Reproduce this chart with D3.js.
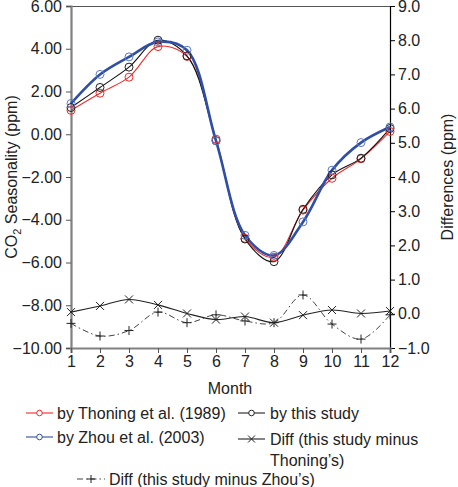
<!DOCTYPE html>
<html>
<head>
<meta charset="utf-8">
<script src="https://cdn.jsdelivr.net/npm/d3@7"></script>
<style>
  body { margin: 0; background: #fff; }
  svg { font-family: "Liberation Sans", Arial, Helvetica, sans-serif; }
</style>
</head>
<body>
<script>
// values
var months = [1, 2, 3, 4, 5, 6, 7, 8, 9, 10, 11, 12];
var thoning = [1.12, 1.92, 2.67, 4.10, 3.64, -0.23, -4.87, -5.75, -3.55, -2.06, -1.15, 0.13];
var zhou = [1.44, 2.80, 3.62, 4.32, 3.93, -0.31, -4.73, -5.67, -4.10, -1.68, -0.39, 0.34];
var thisStudy = [1.25, 2.19, 3.14, 4.40, 3.67, -0.30, -4.90, -5.96, -3.51, -1.90, -1.12, 0.27];
var diffThoning = [0.05, 0.23, 0.42, 0.26, 0.01, -0.17, -0.08, -0.26, -0.04, 0.11, 0.01, 0.08];
var diffZhou = [-0.28, -0.65, -0.49, 0.05, -0.26, -0.03, -0.21, -0.26, 0.55, -0.30, -0.74, -0.03];
var leftTicks = [6, 4, 2, 0, -2, -4, -6, -8, -10];
var rightTicks = [9, 8, 7, 6, 5, 4, 3, 2, 1, 0, -1];

var W = 458, H = 487;
var plotL = 71, plotR = 390, plotT = 6, plotB = 348;

var svg = d3.select("body").append("svg")
    .attr("width", W)
    .attr("height", H);

var x = d3.scaleLinear().domain([1, 12]).range([plotL, plotR]);
var yL = d3.scaleLinear().domain([-10, 6]).range([plotB, plotT]);
var yR = d3.scaleLinear().domain([-1, 9]).range([plotB, plotT]);

function fmt2(v) { return d3.format(".2f")(v).replace("-", "\u2212").replace("\u2212", "\u2212"); }
function fmt1(v) { return d3.format(".1f")(v).replace("-", "\u2212"); }

// top border
svg.append("line")
    .attr("x1", plotL).attr("x2", plotR)
    .attr("y1", plotT + 0.5).attr("y2", plotT + 0.5)
    .attr("stroke", "#555").attr("stroke-width", 1);

// right axis (black)
var gR = svg.append("g")
    .attr("transform", "translate(" + plotR + ",0)")
    .call(d3.axisRight(yR).tickValues(rightTicks).tickFormat(fmt1).tickSize(5).tickPadding(3));
gR.select(".domain").attr("stroke", "#000").attr("stroke-width", 1.2);
gR.selectAll(".tick line").attr("stroke", "#000");
gR.selectAll("text").attr("font-size", 16).attr("fill", "#222").attr("font-family", null);

// left axis (grey)
var gL = svg.append("g")
    .attr("transform", "translate(" + plotL + ",0)")
    .call(d3.axisLeft(yL).tickValues(leftTicks).tickFormat(fmt2).tickSize(5).tickPadding(4));
gL.select(".domain").attr("stroke", "#808080").attr("stroke-width", 2.2);
gL.selectAll(".tick line").attr("stroke", "#555");
gL.selectAll("text").attr("font-size", 16).attr("fill", "#222").attr("font-family", null);

// bottom axis (grey)
var gB = svg.append("g")
    .attr("transform", "translate(0," + plotB + ")")
    .call(d3.axisBottom(x).tickValues(months).tickFormat(d3.format("d")).tickSize(5).tickPadding(3));
gB.select(".domain").attr("stroke", "#808080").attr("stroke-width", 2.2);
gB.selectAll(".tick line").attr("stroke", "#555");
gB.selectAll("text").attr("font-size", 16).attr("fill", "#222").attr("font-family", null);

// axis titles
svg.append("text")
    .attr("x", 230).attr("y", 394)
    .attr("text-anchor", "middle")
    .attr("font-size", 16).attr("fill", "#222")
    .text("Month");

var ttl = svg.append("text")
    .attr("transform", "translate(17," + ((plotT + plotB) / 2) + ") rotate(-90)")
    .attr("text-anchor", "middle")
    .attr("font-size", 16).attr("fill", "#222");
ttl.append("tspan").text("CO");
ttl.append("tspan").attr("font-size", 11).attr("dy", 4).text("2");
ttl.append("tspan").attr("dy", -4).text(" Seasonality (ppm)");

svg.append("text")
    .attr("transform", "translate(453," + ((plotT + plotB) / 2) + ") rotate(-90)")
    .attr("text-anchor", "middle")
    .attr("font-size", 16).attr("fill", "#222")
    .text("Differences (ppm)");

// series lines
function drawLine(vals, yScale, color, width, dash) {
    var line = d3.line()
        .x(function(d, i) { return x(months[i]); })
        .y(function(d) { return yScale(d); })
        .curve(d3.curveCatmullRom.alpha(0.5));
    svg.append("path")
        .datum(vals)
        .attr("d", line)
        .attr("fill", "none")
        .attr("stroke", color)
        .attr("stroke-width", width)
        .attr("stroke-dasharray", dash || null);
}

function drawCircles(vals, yScale, color, r) {
    svg.append("g").selectAll("circle")
        .data(vals)
        .join("circle")
        .attr("cx", function(d, i) { return x(months[i]); })
        .attr("cy", function(d) { return yScale(d); })
        .attr("r", r)
        .attr("fill", "none")
        .attr("stroke", color)
        .attr("stroke-width", 1);
}

function crossPath(cx, cy, s) {
    return "M" + (cx - s) + "," + (cy - s) + "L" + (cx + s) + "," + (cy + s) +
        "M" + (cx - s) + "," + (cy + s) + "L" + (cx + s) + "," + (cy - s);
}
function plusPath(cx, cy, s) {
    return "M" + (cx - s) + "," + cy + "L" + (cx + s) + "," + cy +
        "M" + cx + "," + (cy - s) + "L" + cx + "," + (cy + s);
}

function drawMarks(vals, yScale, pathFn, s, color) {
    svg.append("g").selectAll("path")
        .data(vals)
        .join("path")
        .attr("d", function(d, i) { return pathFn(x(months[i]), yScale(d), s); })
        .attr("fill", "none")
        .attr("stroke", color)
        .attr("stroke-width", 1);
}

// differences (right axis)
drawLine(diffZhou, yR, "#444", 1, "6,3,1.5,3");
drawMarks(diffZhou, yR, plusPath, 4.5, "#222");
drawLine(diffThoning, yR, "#222", 1.1);
drawMarks(diffThoning, yR, crossPath, 4, "#222");

// seasonality (left axis)
drawLine(thoning, yL, "#ee2a2a", 1.1);
drawLine(thisStudy, yL, "#111", 1.1);
drawLine(zhou, yL, "#2f4fa6", 2.6);
drawCircles(thoning, yL, "#ee2a2a", 4);
drawCircles(thisStudy, yL, "#222", 4);
drawCircles(zhou, yL, "#5b78c8", 4);

// legend
var legend = [
    {x1: 26, x2: 53, y: 413, tx: 57, color: "#ee2a2a", mark: "circle", label: ["by Thoning et al. (1989)"]},
    {x1: 26, x2: 53, y: 437, tx: 57, color: "#2f4fa6", mark: "circle", label: ["by Zhou et al. (2003)"]},
    {x1: 238, x2: 265, y: 413, tx: 270, color: "#222", mark: "circle", label: ["by this study"]},
    {x1: 238, x2: 265, y: 439, tx: 270, color: "#222", mark: "cross", label: ["Diff (this study minus", "Thoning\u2019s)"]},
    {x1: 77, x2: 105, y: 479, tx: 109, color: "#444", mark: "plus", dash: "6,3,1.5,3", label: ["Diff (this study minus Zhou\u2019s)"]}
];

legend.forEach(function(d) {
    var cx = (d.x1 + d.x2) / 2;
    svg.append("line")
        .attr("x1", d.x1).attr("x2", d.x2)
        .attr("y1", d.y).attr("y2", d.y)
        .attr("stroke", d.color).attr("stroke-width", 1.1)
        .attr("stroke-dasharray", d.dash || null);
    if (d.mark == "circle") {
        svg.append("circle").attr("cx", cx).attr("cy", d.y).attr("r", 2.8)
            .attr("fill", "#fff").attr("stroke", d.color).attr("stroke-width", 1);
    } else if (d.mark == "cross") {
        svg.append("path").attr("d", crossPath(cx, d.y, 3.5)).attr("stroke", "#222").attr("fill", "none");
    } else {
        svg.append("path").attr("d", plusPath(cx, d.y, 4)).attr("stroke", "#222").attr("fill", "none");
    }
    d.label.forEach(function(t, i) {
        svg.append("text")
            .attr("x", d.tx).attr("y", d.y + 6 + i * 21)
            .attr("font-size", 16).attr("fill", "#222")
            .text(t);
    });
});
</script>
</body>
</html>
